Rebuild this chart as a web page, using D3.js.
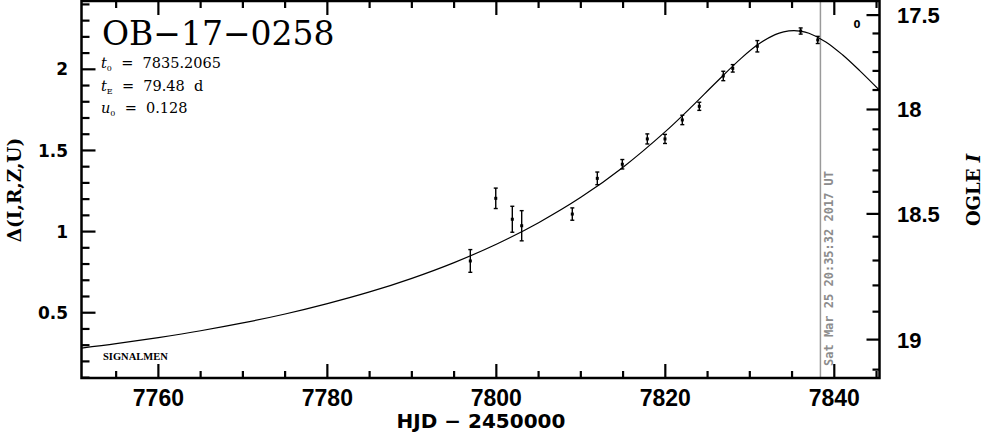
<!DOCTYPE html>
<html>
<head>
<meta charset="utf-8">
<script src="https://cdn.jsdelivr.net/npm/d3@7"></script>
<style>
  html, body { margin: 0; padding: 0; background: #fff; }
  svg { display: block; }
</style>
</head>
<body>
<svg id="chart" width="985" height="434"></svg>
<script>
// ---------------- data ----------------
// observations (HJD - 2450000), Delta(I,R,Z,U) and error bars
const obsTime  = [7796.92, 7799.93, 7801.89, 7803.00, 7808.99, 7811.95, 7814.91, 7817.87, 7819.96, 7822.01, 7824.02, 7826.86, 7827.98, 7830.89, 7836.02, 7838.04];
const obsDelta = [0.819, 1.205, 1.076, 1.036, 1.108, 1.328, 1.415, 1.571, 1.571, 1.688, 1.772, 1.959, 2.006, 2.142, 2.236, 2.181];
const obsErr   = [0.070, 0.063, 0.080, 0.093, 0.038, 0.039, 0.029, 0.031, 0.028, 0.029, 0.025, 0.029, 0.023, 0.035, 0.019, 0.022];

// model light curve
const modelTime  = [7750.9, 7755, 7760, 7765, 7770, 7775, 7780, 7785, 7790, 7795, 7800, 7805, 7810, 7815, 7820, 7823, 7826, 7829, 7831, 7833, 7834, 7835.2, 7836, 7837, 7839, 7841, 7843, 7845.35];
const modelDelta = [0.282, 0.309, 0.347, 0.389, 0.437, 0.492, 0.556, 0.628, 0.712, 0.809, 0.922, 1.055, 1.211, 1.397, 1.616, 1.764, 1.919, 2.069, 2.154, 2.214, 2.231, 2.239, 2.235, 2.222, 2.169, 2.088, 1.992, 1.871];

// axes
const xMajorTicks = [7760, 7780, 7800, 7820, 7840];
const yMajorTicks = [0.5, 1, 1.5, 2];
const yTickLabels = ["0.5", "1", "1.5", "2"];
const magMajorTicks = [17.5, 18, 18.5, 19];
const magTickLabels = ["17.5", "18", "18.5", "19"];

const titleText = "OB\u221217\u22120258";
const nowTime = 7838.358;
const nowLabel = "Sat Mar 25 20:35:32 2017 UT";

// ---------------- layout ----------------
const L = 81.5, R = 879.5, T = 1, B = 378;
const x = d3.scaleLinear().domain([7750.9, 7845.35]).range([L, R]);
const y = d3.scaleLinear().domain([0.0977, 2.421]).range([B, T]);

// magnitude axis (blended source) : OGLE I -> Delta
const Ibase = 19.175, fs = 0.485;
function deltaFromMag(m) {
  const Rr = Math.pow(10, -0.4 * (m - Ibase));
  const A = 1 + (Rr - 1) / fs;
  return 2.5 * Math.log10(A);
}
const magTicksAll = d3.range(174, 193).map(d => d / 10);
const yMag = d3.scaleLinear()
  .domain(magTicksAll)
  .range(magTicksAll.map(m => y(deltaFromMag(m))));

const svg = d3.select("#chart");
svg.append("rect").attr("width", 985).attr("height", 434).attr("fill", "#fff");

const g = svg.append("g");

svg.append("clipPath").attr("id", "clip")
  .append("rect").attr("x", L).attr("y", T).attr("width", R - L).attr("height", B - T);

// vertical "now" line
g.append("line")
  .attr("x1", x(nowTime)).attr("x2", x(nowTime))
  .attr("y1", T).attr("y2", B)
  .attr("stroke", "#9a9a9a").attr("stroke-width", 1.5);
g.append("text")
  .attr("transform", `translate(${x(nowTime) + 13},${B - 12}) rotate(-90)`)
  .attr("font-family", "DejaVu Sans Mono, monospace")
  .attr("font-size", 12).attr("font-weight", "bold")
  .attr("fill", "#8c8c8c")
  .text(nowLabel);

// model curve
const line = d3.line().x((d, i) => x(modelTime[i])).y(d => y(d)).curve(d3.curveCatmullRom);
g.append("path")
  .attr("clip-path", "url(#clip)")
  .attr("d", line(modelDelta))
  .attr("fill", "none").attr("stroke", "#000").attr("stroke-width", 1.2);

// data points
const pts = g.append("g");
obsTime.forEach((t, i) => {
  const cx = x(t), cy = y(obsDelta[i]);
  const y1 = y(obsDelta[i] + obsErr[i]), y2 = y(obsDelta[i] - obsErr[i]);
  pts.append("line").attr("x1", cx).attr("x2", cx).attr("y1", y1).attr("y2", y2)
    .attr("stroke", "#000").attr("stroke-width", 1.4);
  [y1, y2].forEach(yy => pts.append("line")
    .attr("x1", cx - 2).attr("x2", cx + 2).attr("y1", yy).attr("y2", yy)
    .attr("stroke", "#000").attr("stroke-width", 1.4));
  pts.append("rect").attr("x", cx - 1.5).attr("y", cy - 1.5).attr("width", 3).attr("height", 3).attr("fill", "#000");
});

// frame
g.append("rect").attr("x", L).attr("y", T).attr("width", R - L).attr("height", B - T)
  .attr("fill", "none").attr("stroke", "#000").attr("stroke-width", 2.5);

const tk = g.append("g").attr("stroke", "#000").attr("stroke-width", 2.2);
// x ticks (bottom and top)
d3.range(7755, 7846, 5).forEach(v => {
  const major = xMajorTicks.includes(v);
  const len = major ? 14 : 7;
  const xx = x(v);
  tk.append("line").attr("x1", xx).attr("x2", xx).attr("y1", B).attr("y2", B - len);
  tk.append("line").attr("x1", xx).attr("x2", xx).attr("y1", T).attr("y2", T + len);
});
// left y ticks
d3.range(1, 25).map(d => d / 10).forEach(v => {
  const major = Math.abs(v * 2 - Math.round(v * 2)) < 1e-6;
  const len = major ? 14 : 8;
  tk.append("line").attr("x1", L).attr("x2", L + len).attr("y1", y(v)).attr("y2", y(v));
});
// right mag ticks
d3.range(175, 192).map(d => d / 10).forEach(v => {
  const major = magMajorTicks.some(m => Math.abs(m - v) < 1e-6);
  const len = major ? 13 : 7;
  tk.append("line").attr("x1", R).attr("x2", R - len).attr("y1", yMag(v)).attr("y2", yMag(v));
});

// tick labels
const lab = g.append("g").attr("fill", "#000");
xMajorTicks.forEach(v => {
  lab.append("text").attr("x", x(v)).attr("y", 406)
    .attr("text-anchor", "middle")
    .attr("font-family", "Liberation Sans, Arial, sans-serif")
    .attr("font-weight", "bold").attr("font-size", 23)
    .text(v);
});
yMajorTicks.forEach((v, i) => {
  lab.append("text").attr("x", 68).attr("y", y(v)).attr("dy", "0.36em")
    .attr("text-anchor", "end")
    .attr("font-family", "DejaVu Sans, sans-serif")
    .attr("font-weight", "bold").attr("font-size", 17)
    .text(yTickLabels[i]);
});
magMajorTicks.forEach((v, i) => {
  lab.append("text").attr("x", 897).attr("y", yMag(v)).attr("dy", "0.36em")
    .attr("text-anchor", "start")
    .attr("font-family", "Liberation Sans, Arial, sans-serif")
    .attr("font-weight", "bold").attr("font-size", 22)
    .text(magTickLabels[i]);
});

// axis titles
lab.append("text").attr("x", 481).attr("y", 428).attr("text-anchor", "middle")
  .attr("font-family", "DejaVu Sans, sans-serif").attr("font-weight", "bold").attr("font-size", 20)
  .text("HJD \u2212 2450000");
lab.append("text").attr("transform", "translate(21,190) rotate(-90)").attr("text-anchor", "middle")
  .attr("font-family", "DejaVu Serif, serif").attr("font-weight", "bold").attr("font-size", 18.5)
  .text("\u0394(I,R,Z,U)");
const ogle = lab.append("text").attr("transform", "translate(980,190) rotate(-90)").attr("text-anchor", "middle")
  .attr("font-family", "DejaVu Serif, serif").attr("font-weight", "bold").attr("font-size", 18);
ogle.append("tspan").text("OGLE ");
ogle.append("tspan").attr("font-style", "italic").text("I");

// title & parameters
lab.append("text").attr("x", 102).attr("y", 45)
  .attr("font-family", "DejaVu Serif, serif").attr("font-size", 33)
  .text(titleText);
const params = [["t", "0", "  =  7835.2065"], ["t", "E", "  =  79.48  d"], ["u", "0", "  =  0.128"]];
params.forEach((p, i) => {
  const t = lab.append("text").attr("x", 101).attr("y", 68 + i * 22.5)
    .attr("xml:space", "preserve").style("white-space", "pre")
    .attr("font-family", "DejaVu Serif, serif").attr("font-size", 14.5);
  t.append("tspan").attr("font-style", "italic").text(p[0]);
  t.append("tspan").attr("font-size", 8).attr("dy", 3).text(p[1]);
  t.append("tspan").attr("dy", -3).text(p[2]);
});
lab.append("text").attr("x", 103).attr("y", 360)
  .attr("font-family", "Liberation Serif, serif").attr("font-weight", "bold").attr("font-size", 10.5)
  .text("SIGNALMEN");
lab.append("text").attr("x", 857).attr("y", 28).attr("text-anchor", "middle")
  .attr("font-family", "DejaVu Sans, sans-serif").attr("font-weight", "bold").attr("font-size", 10)
  .text("0");
</script>
</body>
</html>
